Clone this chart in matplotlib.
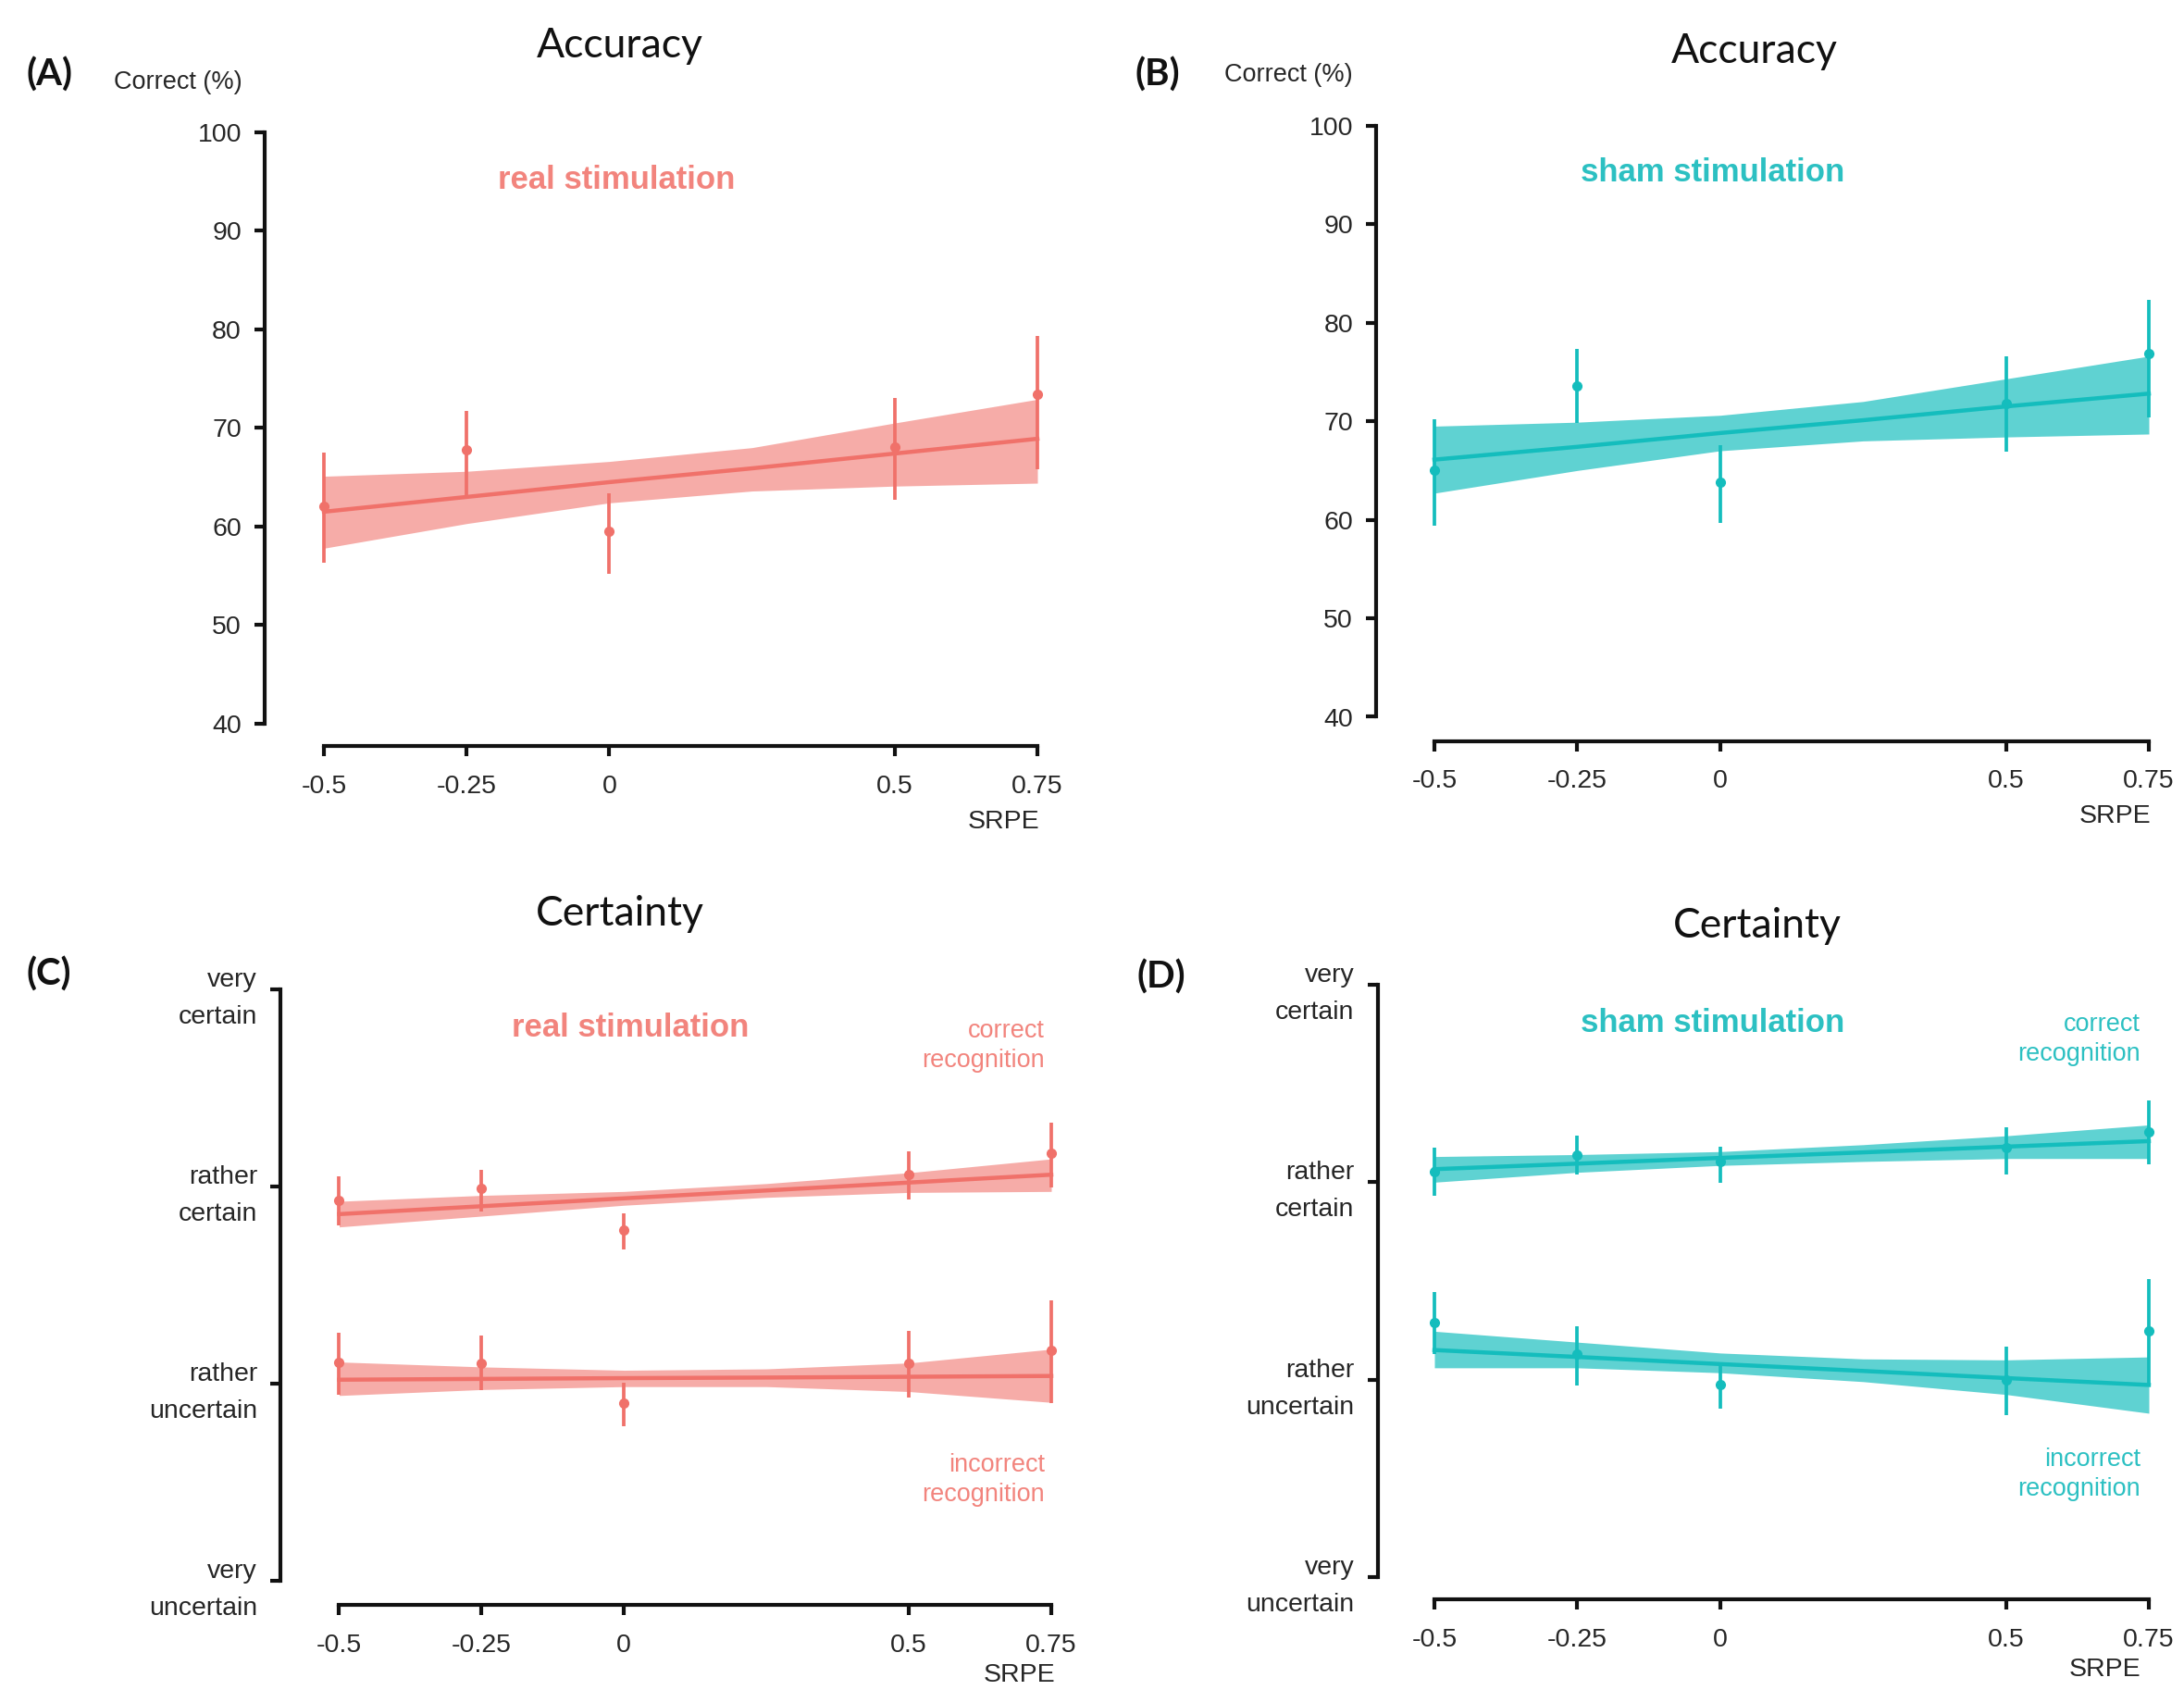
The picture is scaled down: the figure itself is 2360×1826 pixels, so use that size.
import numpy as np
import matplotlib
matplotlib.use('Agg')
import matplotlib.pyplot as plt

# SRPE levels used in all panels
srpe = [-0.5, -0.25, 0, 0.5, 0.75]
fit_x = [-0.5, -0.25, 0, 0.25, 0.5, 0.75]

# (A) accuracy, real stimulation
acc_real = [62.1, 67.8, 59.5, 68.1, 73.4]
acc_real_lo = [56.3, 63.2, 55.2, 62.7, 65.8]
acc_real_hi = [67.5, 71.7, 63.4, 73.0, 79.3]
acc_real_fit = [61.5, 63.0, 64.5, 65.9, 67.4, 68.9]
acc_real_band_lo = [57.8, 60.3, 62.4, 63.6, 64.1, 64.4]
acc_real_band_hi = [65.1, 65.6, 66.6, 68.0, 70.5, 72.9]

# (B) accuracy, sham stimulation
acc_sham = [65.0, 73.6, 63.8, 71.8, 76.9]
acc_sham_lo = [59.4, 69.8, 59.7, 66.9, 70.4]
acc_sham_hi = [70.2, 77.3, 67.6, 76.6, 82.3]
acc_sham_fit = [66.1, 67.4, 68.8, 70.1, 71.5, 72.8]
acc_sham_band_lo = [62.7, 65.0, 67.0, 68.0, 68.4, 68.7]
acc_sham_band_hi = [69.5, 69.9, 70.6, 72.0, 74.3, 76.6]

# (C) certainty, real stimulation (1 = very uncertain ... 4 = very certain)
cert_real_corr = [2.93, 2.99, 2.78, 3.06, 3.17]
cert_real_corr_lo = [2.805, 2.873, 2.682, 2.936, 2.996]
cert_real_corr_hi = [3.05, 3.084, 2.865, 3.18, 3.325]
cert_real_corr_fit = [2.86, 2.90, 2.94, 2.98, 3.02, 3.06]
cert_real_corr_band_lo = [2.795, 2.85, 2.905, 2.945, 2.97, 2.975]
cert_real_corr_band_hi = [2.925, 2.955, 2.975, 3.015, 3.07, 3.14]

cert_real_inc = [2.108, 2.102, 1.903, 2.102, 2.168]
cert_real_inc_lo = [1.944, 1.966, 1.785, 1.93, 1.903]
cert_real_inc_hi = [2.258, 2.245, 2.004, 2.266, 2.422]
cert_real_inc_fit = [2.02, 2.024, 2.028, 2.031, 2.035, 2.039]
cert_real_inc_band_lo = [1.94, 1.97, 1.985, 1.985, 1.96, 1.905]
cert_real_inc_band_hi = [2.11, 2.085, 2.068, 2.075, 2.105, 2.175]

# (D) certainty, sham stimulation
cert_sham_corr = [3.052, 3.139, 3.104, 3.175, 3.254]
cert_sham_corr_lo = [2.929, 3.038, 2.995, 3.038, 3.09]
cert_sham_corr_hi = [3.175, 3.235, 3.18, 3.276, 3.413]
cert_sham_corr_fit = [3.066, 3.094, 3.123, 3.151, 3.180, 3.208]
cert_sham_corr_band_lo = [3.0, 3.05, 3.085, 3.105, 3.12, 3.12]
cert_sham_corr_band_hi = [3.13, 3.14, 3.155, 3.19, 3.235, 3.29]

cert_sham_inc = [2.287, 2.128, 1.973, 2.0, 2.246]
cert_sham_inc_lo = [2.128, 1.97, 1.855, 1.82, 1.978]
cert_sham_inc_hi = [2.443, 2.27, 2.079, 2.169, 2.511]
cert_sham_inc_fit = [2.15, 2.115, 2.079, 2.044, 2.008, 1.973]
cert_sham_inc_band_lo = [2.06, 2.06, 2.035, 1.99, 1.925, 1.83]
cert_sham_inc_band_hi = [2.245, 2.19, 2.135, 2.105, 2.1, 2.115]

acc_ticks = [40, 50, 60, 70, 80, 90, 100]
cert_ticks = [1, 2, 3, 4]
cert_labels = ['very\nuncertain', 'rather\nuncertain', 'rather\ncertain', 'very\ncertain']
x_labels = ['-0.5', '-0.25', '0', '0.5', '0.75']

RED = '#F0716A'
RED_TXT = '#F2847D'
TEAL = '#14BDBD'
TEAL_TXT = '#2CC0C2'

W, H = 2360, 1826
plt.rcParams['font.family'] = ['Liberation Sans', 'DejaVu Sans']
fig = plt.figure(figsize=(W / 100, H / 100), dpi=100)


def fx(px):
    return px / W


def fy(py):
    return 1 - py / H


def make_axes(x0, x1, ytop, ybot, out_y, out_x):
    ax = fig.add_axes([fx(x0), fy(ybot), fx(x1 - x0), (ybot - ytop) / H])
    ax.spines['top'].set_visible(False)
    ax.spines['right'].set_visible(False)
    ax.spines['left'].set_position(('outward', out_y * 0.72))
    ax.spines['bottom'].set_position(('outward', out_x * 0.72))
    for s in ('left', 'bottom'):
        ax.spines[s].set_linewidth(3.0)
        ax.spines[s].set_color('#111111')
    ax.tick_params(direction='out', length=8, width=3.0, colors='#111111',
                   labelsize=20.5, labelcolor='#262626')
    ax.tick_params(axis='x', pad=14)
    ax.tick_params(axis='y', pad=10)
    ax.set_xlim(-0.5, 0.75)
    ax.set_xticks(srpe)
    ax.set_xticklabels(x_labels)
    ax.patch.set_alpha(0)
    return ax


def draw_series(ax, pts, lo, hi, fit, blo, bhi, color, alpha):
    ax.fill_between(fit_x, blo, bhi, color=color, alpha=alpha, lw=0, clip_on=False)
    ax.plot(fit_x, fit, color=color, lw=3.2, clip_on=False)
    yerr = [np.array(pts) - np.array(lo), np.array(hi) - np.array(pts)]
    ax.errorbar(srpe, pts, yerr=yerr, fmt='o', color=color, ms=7, elinewidth=2.7,
                capsize=0, clip_on=False)


title_kw = dict(fontsize=32, family=['Lato', 'DejaVu Sans'], ha='center', va='center', color='#111111')
letter_kw = dict(fontsize=29, family=['Lato', 'DejaVu Sans'], fontweight='bold', ha='center', va='center',
                 color='#111111')

# (A)
axA = make_axes(350, 1121, 142.7, 782, 64, 24.5)
axA.set_ylim(40, 100)
axA.set_yticks(acc_ticks)
draw_series(axA, acc_real, acc_real_lo, acc_real_hi, acc_real_fit,
            acc_real_band_lo, acc_real_band_hi, RED, 0.58)
fig.text(fx(670), fy(49), 'Accuracy', **title_kw)
fig.text(fx(53), fy(81), '(A)', **letter_kw)
fig.text(fx(192), fy(89), 'Correct (%)', fontsize=19.5, ha='center', va='center', color='#262626')
fig.text(fx(666), fy(195), 'real stimulation', fontsize=25, fontweight='bold', ha='center',
         va='center', color=RED_TXT)
fig.text(fx(1123), fy(888), 'SRPE', fontsize=20.5, ha='right', va='center', color='#262626')

# (B)
axB = make_axes(1550, 2322, 135.7, 774.5, 63, 26)
axB.set_ylim(40, 100)
axB.set_yticks(acc_ticks)
draw_series(axB, acc_sham, acc_sham_lo, acc_sham_hi, acc_sham_fit,
            acc_sham_band_lo, acc_sham_band_hi, TEAL, 0.68)
fig.text(fx(1896), fy(55), 'Accuracy', **title_kw)
fig.text(fx(1251), fy(81), '(B)', **letter_kw)
fig.text(fx(1392), fy(81), 'Correct (%)', fontsize=19.5, ha='center', va='center', color='#262626')
fig.text(fx(1851), fy(187), 'sham stimulation', fontsize=25, fontweight='bold', ha='center',
         va='center', color=TEAL_TXT)
fig.text(fx(2324), fy(882), 'SRPE', fontsize=20.5, ha='right', va='center', color='#262626')

# (C)
axC = make_axes(366.5, 1136, 1069, 1708, 63.5, 26)
axC.set_ylim(1, 4)
axC.set_yticks(cert_ticks)
axC.set_yticklabels(cert_labels, linespacing=1.7)
draw_series(axC, cert_real_corr, cert_real_corr_lo, cert_real_corr_hi, cert_real_corr_fit,
            cert_real_corr_band_lo, cert_real_corr_band_hi, RED, 0.58)
draw_series(axC, cert_real_inc, cert_real_inc_lo, cert_real_inc_hi, cert_real_inc_fit,
            cert_real_inc_band_lo, cert_real_inc_band_hi, RED, 0.58)
fig.text(fx(670), fy(987), 'Certainty', **title_kw)
fig.text(fx(53), fy(1053), '(C)', **letter_kw)
fig.text(fx(681), fy(1111), 'real stimulation', fontsize=25, fontweight='bold', ha='center',
         va='center', color=RED_TXT)
fig.text(fx(1129), fy(1130), 'correct\nrecognition', fontsize=19.5, ha='right', va='center',
         color=RED_TXT, linespacing=1.3)
fig.text(fx(1129), fy(1599), 'incorrect\nrecognition', fontsize=19.5, ha='right', va='center',
         color=RED_TXT, linespacing=1.3)
fig.text(fx(1140), fy(1810), 'SRPE', fontsize=20.5, ha='right', va='center', color='#262626')

# (D)
axD = make_axes(1550, 2322, 1064, 1704, 61.5, 24)
axD.set_ylim(1, 4)
axD.set_yticks(cert_ticks)
axD.set_yticklabels(cert_labels, linespacing=1.7)
draw_series(axD, cert_sham_corr, cert_sham_corr_lo, cert_sham_corr_hi, cert_sham_corr_fit,
            cert_sham_corr_band_lo, cert_sham_corr_band_hi, TEAL, 0.68)
draw_series(axD, cert_sham_inc, cert_sham_inc_lo, cert_sham_inc_hi, cert_sham_inc_fit,
            cert_sham_inc_band_lo, cert_sham_inc_band_hi, TEAL, 0.68)
fig.text(fx(1899), fy(1000), 'Certainty', **title_kw)
fig.text(fx(1255), fy(1056), '(D)', **letter_kw)
fig.text(fx(1851), fy(1105), 'sham stimulation', fontsize=25, fontweight='bold', ha='center',
         va='center', color=TEAL_TXT)
fig.text(fx(2313), fy(1123), 'correct\nrecognition', fontsize=19.5, ha='right', va='center',
         color=TEAL_TXT, linespacing=1.3)
fig.text(fx(2313), fy(1593), 'incorrect\nrecognition', fontsize=19.5, ha='right', va='center',
         color=TEAL_TXT, linespacing=1.3)
fig.text(fx(2313), fy(1804), 'SRPE', fontsize=20.5, ha='right', va='center', color='#262626')

fig.savefig('out.png', dpi=100, facecolor='white')
